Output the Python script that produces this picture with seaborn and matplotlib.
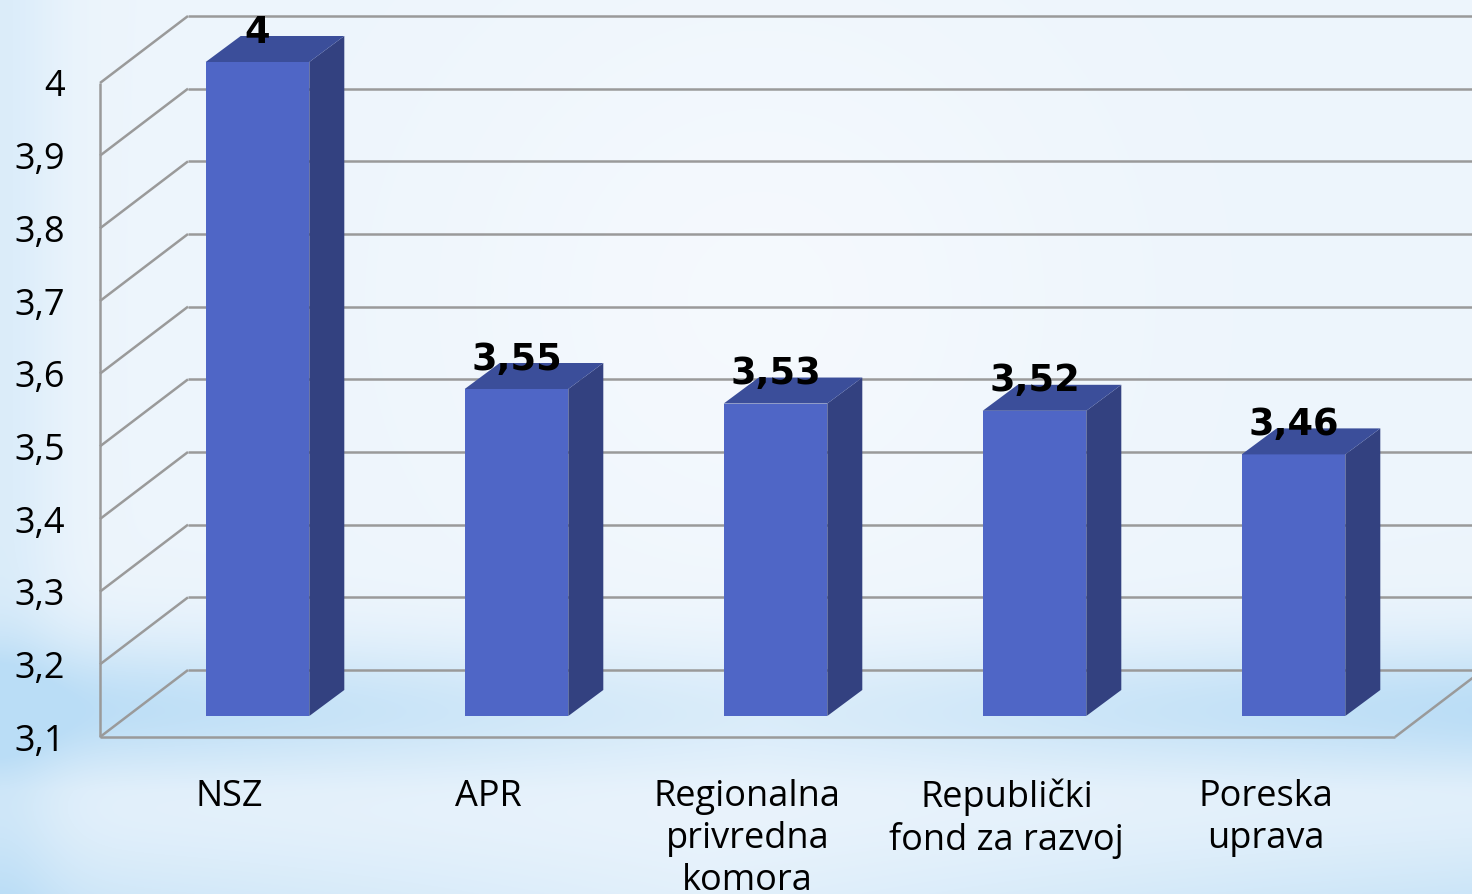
import numpy as np
import pandas as pd
import matplotlib
matplotlib.use("Agg")
import matplotlib.pyplot as plt
import matplotlib.transforms as mtransforms
from matplotlib.patches import Polygon
import seaborn as sns

# data
categories = ["NSZ", "APR", "Regionalna\nprivredna\nkomora",
              "Republički\nfond za razvoj", "Poreska\nuprava"]
scores = [4.0, 3.55, 3.53, 3.52, 3.46]
value_labels = ["4", "3,55", "3,53", "3,52", "3,46"]
y_ticks = [3.1, 3.2, 3.3, 3.4, 3.5, 3.6, 3.7, 3.8, 3.9, 4.0]
y_tick_labels = ["3,1", "3,2", "3,3", "3,4", "3,5", "3,6", "3,7", "3,8", "3,9", "4"]

W, H, DPI = 1472, 894, 100
FRONT = "#4f66c6"
SIDE = "#334180"
TOP = "#3b4e9a"
GRID = "#9a9a9a"

sns.set_theme(style="white")
plt.rcParams["font.family"] = ["Open Sans", "DejaVu Sans"]

fig = plt.figure(figsize=(W / DPI, H / DPI), dpi=DPI)

# background gradient
yy, xx = np.mgrid[0:H, 0:W].astype(float)
base = np.array([237, 245, 252], float)
blue = np.array([186, 221, 246], float)
img = np.ones((H, W, 3)) * base
band = np.exp(-((yy - 710) / 70) ** 2) * (0.45 + 0.55 * np.abs(xx - 760) / 760)
left = np.exp(-(xx / 60) ** 2) * 0.35
bottom = np.clip((yy - 790) / 120, 0, 1) * (0.25 + 0.5 * np.abs(xx - 700) / 760)
w = np.clip(band + left + bottom, 0, 1)[..., None]
img = img * (1 - w) + blue * w
glow = np.exp(-(((xx - 760) / 330) ** 2 + ((yy - 300) / 330) ** 2))[..., None] * 0.6
img = img * (1 - glow) + np.array([250, 252, 255.0]) * glow
bg = fig.add_axes([0, 0, 1, 1], zorder=-10)
bg.imshow(img.astype(np.uint8), aspect="auto")
bg.axis("off")

# axes = plane of the bar fronts
left_px, right_px, bottom_px, top_px = 128, 1423, 716, 62
ax = fig.add_axes([left_px / W, 1 - bottom_px / H,
                   (right_px - left_px) / W, (bottom_px - top_px) / H])
ax.patch.set_alpha(0)

df = pd.DataFrame({"category": categories, "score": scores})
sns.barplot(data=df, x="category", y="score", color=FRONT, saturation=1,
            width=0.4, ax=ax, zorder=3, linewidth=0, edgecolor="none")
ax.set_xlim(-0.5, len(categories) - 0.5)
ax.set_ylim(y_ticks[0], y_ticks[-1])
for s in ax.spines.values():
    s.set_visible(False)
ax.set_xlabel("")
ax.set_ylabel("")

# pixel -> data conversion for depth offsets
p0 = ax.transData.transform((0, 3.1))
p1 = ax.transData.transform((1, 4.1))
sx = 1.0 / (p1[0] - p0[0])
sy = 1.0 / (p1[1] - p0[1])


def depth(dx, dy):
    return dx * sx, dy * sy


fdx, fdy = depth(-28, -21)   # front wall plane
kdx, kdy = depth(35, 26)     # bar depth
bdx, bdy = depth(60, 46)     # back wall plane

x_lo, x_hi = -0.5, len(categories) - 0.5
ybase = y_ticks[0]
lkw = dict(color=GRID, lw=1.8, clip_on=False, zorder=1, solid_capstyle="butt")

# back wall + left wall
for t in y_ticks:
    ax.plot([x_lo + bdx, x_hi + bdx], [t + bdy, t + bdy], **lkw)
    ax.plot([x_lo + fdx, x_lo + bdx], [t + fdy, t + bdy], **lkw)
ax.plot([x_lo + fdx, x_lo + fdx], [ybase + fdy, y_ticks[-1] + fdy], **lkw)
# floor
ax.plot([x_lo + fdx, x_hi + fdx], [ybase + fdy, ybase + fdy], **lkw)
ax.plot([x_hi + fdx, x_hi + bdx], [ybase + fdy, ybase + bdy], **lkw)

# 3d faces of bars
for bar, lab in zip(ax.patches, value_labels):
    x0 = bar.get_x()
    x1 = x0 + bar.get_width()
    v = bar.get_height()
    side = [(x1, ybase), (x1 + kdx, ybase + kdy), (x1 + kdx, v + kdy), (x1, v)]
    top = [(x0, v), (x1, v), (x1 + kdx, v + kdy), (x0 + kdx, v + kdy)]
    ax.add_patch(Polygon(side, closed=True, facecolor=SIDE, edgecolor="none",
                         zorder=3, clip_on=False))
    ax.add_patch(Polygon(top, closed=True, facecolor=TOP, edgecolor="none",
                         zorder=3, clip_on=False))
    ax.annotate(lab, (x0 + bar.get_width() / 2, v), xytext=(0, 14),
                textcoords="offset points", ha="center", va="baseline",
                fontsize=26.5, fontweight="bold", family=["DejaVu Sans"],
                color="black", zorder=5, annotation_clip=False)

# ticks drawn on the front wall plane
ax.set_yticks(y_ticks)
ax.set_yticklabels(y_tick_labels)
ax.tick_params(axis="y", length=0, pad=25, labelsize=26, labelcolor="black")
ax.tick_params(axis="x", length=0, pad=30, labelsize=26, labelcolor="black")
shift = mtransforms.ScaledTranslation(-28 / DPI, -21 / DPI, fig.dpi_scale_trans)
for t in ax.get_yticklabels() + ax.get_xticklabels():
    t.set_transform(t.get_transform() + shift)
for t in ax.get_xticklabels():
    t.set_multialignment("center")
    t.set_linespacing(1.22)

fig.savefig("out.png", dpi=DPI)
